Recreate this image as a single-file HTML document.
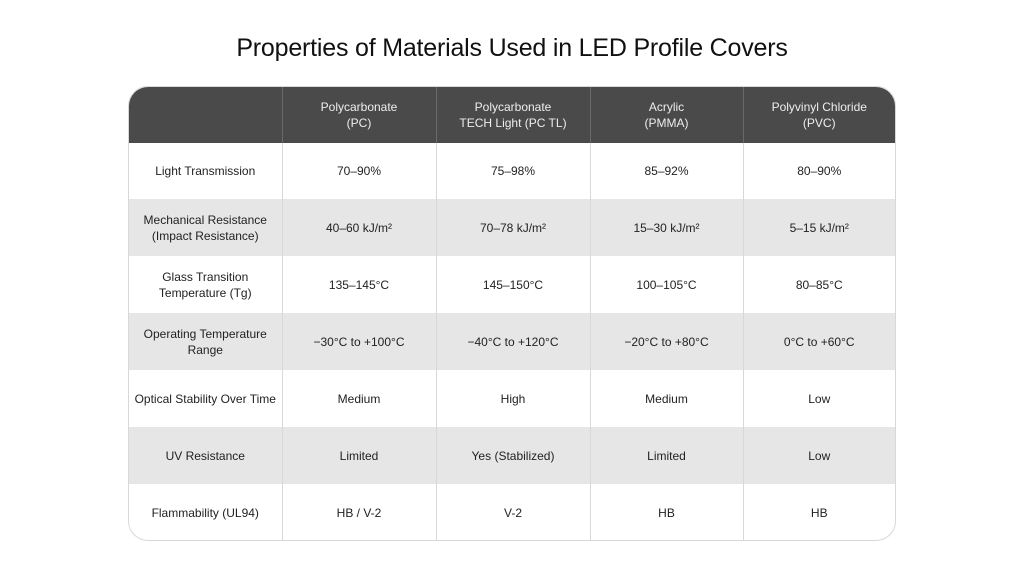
<!DOCTYPE html>
<html><head><meta charset="utf-8"><style>
html,body{margin:0;padding:0;background:#fff;width:1024px;height:576px;overflow:hidden;font-family:"Liberation Sans",sans-serif;}
h1{position:absolute;top:34px;left:0;width:1024px;text-align:center;margin:0;font-weight:normal;font-size:25px;color:#111;letter-spacing:-0.2px;}
.t{position:absolute;left:128px;top:86px;width:768px;height:455px;border:1px solid #d8d8d8;border-radius:20px;overflow:hidden;box-sizing:border-box;}
table{border-collapse:collapse;width:100%;height:100%;table-layout:fixed;}
td,th{text-align:center;vertical-align:middle;font-size:12px;color:#222;border-left:1px solid #d8d8d8;line-height:16px;padding:0;font-weight:normal;}
td:first-child,th:first-child{border-left:none;}
th{background:#4a4a4a;color:#eee;height:56px;border-left-color:#6a6a6a;}
tr{height:57px;}
tr.g td{background:#e6e6e6;}
</style></head><body>
<h1>Properties of Materials Used in LED Profile Covers</h1>
<div class="t"><table>
<colgroup><col style="width:153px"><col style="width:154px"><col style="width:154px"><col style="width:153px"><col></colgroup>
<tr style="height:56px"><th></th><th>Polycarbonate<br>(PC)</th><th>Polycarbonate<br>TECH Light (PC TL)</th><th>Acrylic<br>(PMMA)</th><th>Polyvinyl Chloride<br>(PVC)</th></tr>
<tr style="height:56px"><td>Light Transmission</td><td>70–90%</td><td>75–98%</td><td>85–92%</td><td>80–90%</td></tr>
<tr class="g"><td>Mechanical Resistance<br>(Impact Resistance)</td><td>40–60 kJ/m²</td><td>70–78 kJ/m²</td><td>15–30 kJ/m²</td><td>5–15 kJ/m²</td></tr>
<tr><td>Glass Transition<br>Temperature (Tg)</td><td>135–145°C</td><td>145–150°C</td><td>100–105°C</td><td>80–85°C</td></tr>
<tr class="g"><td>Operating Temperature<br>Range</td><td>−30°C to +100°C</td><td>−40°C to +120°C</td><td>−20°C to +80°C</td><td>0°C to +60°C</td></tr>
<tr><td>Optical Stability Over Time</td><td>Medium</td><td>High</td><td>Medium</td><td>Low</td></tr>
<tr class="g"><td>UV Resistance</td><td>Limited</td><td>Yes (Stabilized)</td><td>Limited</td><td>Low</td></tr>
<tr><td>Flammability (UL94)</td><td>HB / V-2</td><td>V-2</td><td>HB</td><td>HB</td></tr>
</table></div>
</body></html>
